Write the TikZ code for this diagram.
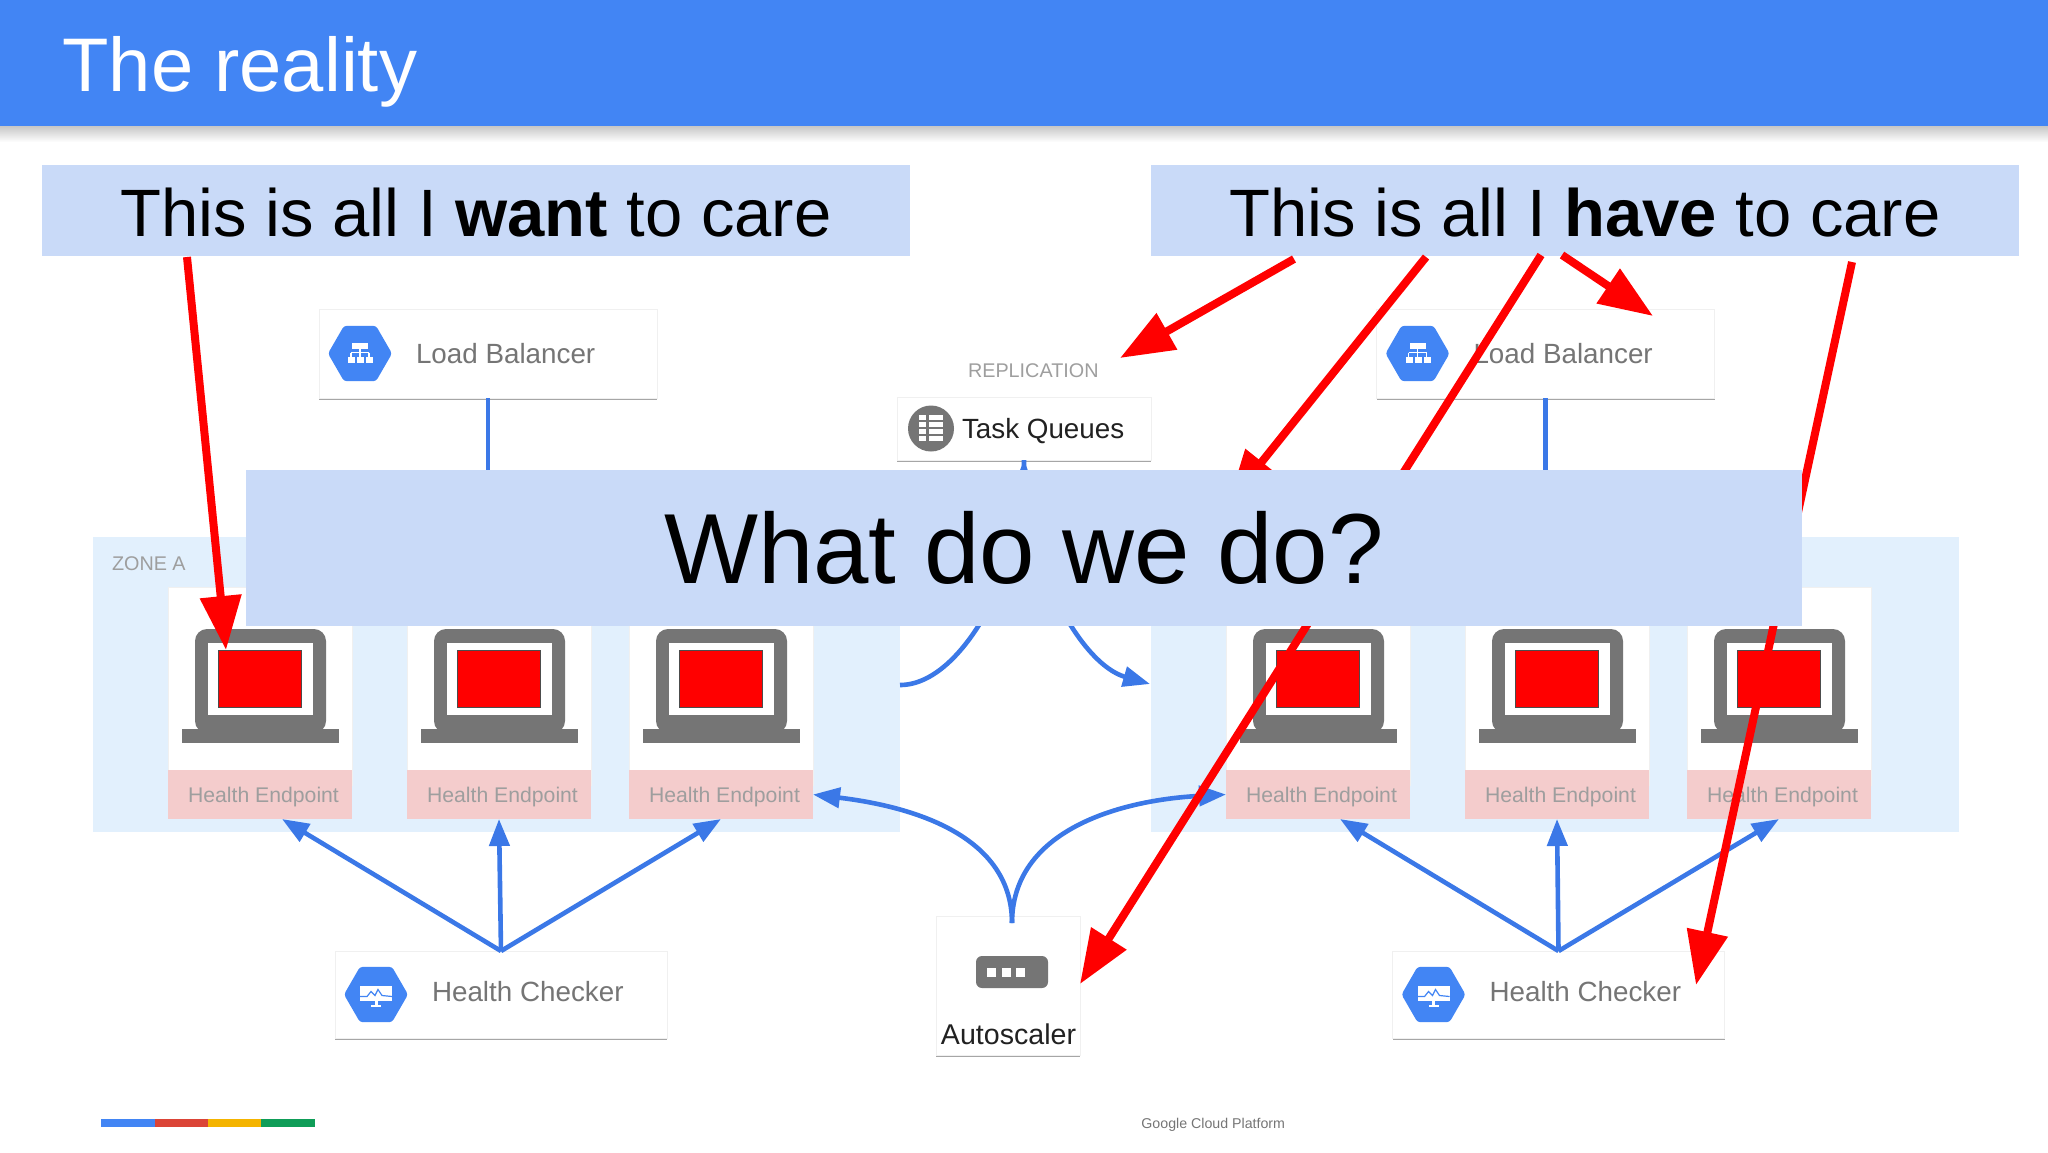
\documentclass[tikz,border=0pt]{standalone}
\usepackage{fontspec}
\setmainfont{Liberation Sans}
\usepackage{xcolor}
\usetikzlibrary{positioning,arrows.meta,shapes,shadows}
\definecolor{headerblue}{HTML}{4285F4}
\definecolor{bandblue}{HTML}{C9DAF8}
\definecolor{zoneblue}{HTML}{E2F0FD}
\definecolor{flowblue}{HTML}{3B78E7}
\definecolor{endpink}{HTML}{F4CCCC}
\definecolor{icongray}{HTML}{757575}
\definecolor{softgray}{HTML}{9E9E9E}
\definecolor{inkgray}{HTML}{212121}
\definecolor{stripered}{HTML}{DB4437}
\definecolor{stripeyellow}{HTML}{F4B400}
\definecolor{stripegreen}{HTML}{0F9D58}
\begin{document}
\begin{tikzpicture}[
    x=0.5pt, y=-0.5pt,
    card/.style={rectangle, fill=white, draw=black!6, inner sep=0pt, outer sep=0pt,
        drop shadow={shadow xshift=0pt, shadow yshift=-1pt, fill=black, opacity=0.35}},
    vmcard/.style={card, anchor=north west, minimum width=92pt, minimum height=99pt},
    endpoint/.style={rectangle, fill=endpink, anchor=north west, inner sep=0pt, outer sep=0pt,
        minimum width=92pt, minimum height=24.5pt, text=softgray, text height=10.5pt, text depth=2.3pt,
        font=\fontsize{10.6}{13}\selectfont},
    topband/.style={rectangle, fill=bandblue, inner sep=0pt, outer sep=0pt, text=black,
        text height=32pt, text depth=6pt,
        minimum width=434pt, minimum height=45.5pt, font=\fontsize{33.5}{38}\selectfont},
    hexicon/.style={regular polygon, regular polygon sides=6, fill=headerblue, rounded corners=1.5pt,
        minimum size=32pt, inner sep=0pt, outer sep=0pt},
    cardtext/.style={inner sep=0pt, outer sep=0pt, text=icongray, font=\fontsize{13.9}{16}\selectfont},
    small/.style={inner sep=0pt, outer sep=0pt, text=softgray, font=\fontsize{9.9}{12}\selectfont},
    flow/.style={draw=flowblue, line width=2.3pt, -{Triangle[length=13.5pt,width=10pt]}},
    plainflow/.style={draw=flowblue, line width=2.3pt},
    redarrow/.style={draw=red, line width=4pt, -{Triangle[length=27pt,width=20pt]}},
    laptop/.pic={
        \fill[icongray, rounded corners=6pt] (27,42) rectangle (158,146);
        \fill[icongray] (14,142) rectangle (171,156);
        \fill[white] (40,56) rectangle (145,128);
        \filldraw[fill=red, draw=black!70, line width=0.5pt] (50,63) rectangle (133,120);
    },
    treeglyph/.pic={
        \fill[white] (-8,-11) rectangle (8,-5);
        \foreach \xa in {-12,-3,6} \fill[white] (\xa,3) rectangle (\xa+7,9);
        \draw[white, line width=0.6pt] (0,-5) -- (0,3) (-9,-1) -- (9,-1) (-9,-1) -- (-9,3) (9,-1) -- (9,3);
    },
    monitorglyph/.pic={
        \fill[white] (-16,-9) rectangle (16,6);
        \fill[white] (-1.5,6) rectangle (1.5,11);
        \fill[white] (-5,10) rectangle (5,12);
        \draw[headerblue, line width=0.6pt] (-16,2) -- (-9,2) -- (-5,-3) -- (-1,1) -- (2,-5) -- (6,1) -- (16,2);
    }
]
    % header
    \fill[headerblue] (0,0) rectangle (2048,126);
    \shade[top color=black!22, bottom color=white] (0,126) rectangle (2048,142);
    \node[anchor=base west, inner sep=0pt, text=white, font=\fontsize{38}{44}\selectfont] (title) at (62,91) {The reality};

    % zones
    \node[rectangle, fill=zoneblue, anchor=north west, inner sep=0pt, minimum width=403.5pt, minimum height=147.5pt] (zonea) at (93,537) {};
    \node[rectangle, fill=zoneblue, anchor=north west, inner sep=0pt, minimum width=404pt, minimum height=147.5pt] (zoneb) at (1151,537) {};
    \node[small, anchor=base west] (zonelabel) at (112,570) {ZONE A};

    % vm cards
    \foreach \name/\xpos in {a/168,b/407,c/629,d/1226,e/1465,f/1687} {
        \node[vmcard] (vm\name) at (\xpos,587) {};
        \pic at (\xpos,587) {laptop};
        \node[endpoint] (ep\name) at (\xpos,770) {\hspace*{3.5pt}Health Endpoint};
    }

    % load balancers
    \node[card, minimum width=169pt, minimum height=44.5pt] (lbleft) at (488,353.5) {};
    \node[hexicon, right=4.5pt of lbleft.west] (lbhexleft) {};
    \pic at (lbhexleft.center) {treeglyph};
    \node[cardtext, right=12pt of lbhexleft] (lbtextleft) {Load Balancer};
    \node[card, minimum width=169pt, minimum height=44.5pt] (lbright) at (1545.5,353.5) {};
    \node[hexicon, right=4.5pt of lbright.west] (lbhexright) {};
    \pic at (lbhexright.center) {treeglyph};
    \node[cardtext, right=12pt of lbhexright] (lbtextright) {Load Balancer};
    \draw[plainflow] (lbleft.south) -- (lbleft.south |- zonea.north);
    \draw[plainflow] (lbright.south) -- (lbright.south |- zoneb.north);

    % task queues
    \node[small, anchor=base west] (replabel) at (968,377) {REPLICATION};
    \node[card, minimum width=127pt, minimum height=31.5pt] (taskq) at (1024,428.5) {};
    \node[circle, fill=icongray, minimum size=23pt, inner sep=0pt, outer sep=0pt, right=5.5pt of taskq.west] (tqicon) {};
    \foreach \ya in {415,422,429,436} {
        \fill[white] (919,\ya) rectangle (926,\ya+5);
        \fill[white] (929,\ya) rectangle (943,\ya+5);
    }
    \node[cardtext, text=inkgray, right=4pt of tqicon, yshift=-1.3pt] (tqtext) {Task Queues};
    \coordinate (replin) at (900,685);
    \coordinate (replout) at (1150,684);
    \draw[flow] (replin) .. controls (965,685) and (1023,560) .. (taskq.south);
    \draw[flow] (taskq.south) .. controls (1023,560) and (1080,664) .. (replout);

    % health checkers
    \node[card, minimum width=166pt, minimum height=43.5pt] (hcleft) at (501,994.5) {};
    \node[hexicon, right=4.5pt of hcleft.west] (hchexleft) {};
    \pic at (hchexleft.center) {monitorglyph};
    \node[cardtext, right=12pt of hchexleft, yshift=1.3pt] (hctextleft) {Health Checker};
    \node[card, minimum width=166pt, minimum height=43.5pt] (hcright) at (1558.5,994.5) {};
    \node[hexicon, right=4.5pt of hcright.west] (hchexright) {};
    \pic at (hchexright.center) {monitorglyph};
    \node[cardtext, right=12pt of hchexright, yshift=1.3pt] (hctextright) {Health Checker};
    \draw[flow] (hcleft.north) -- ([xshift=11pt]epa.south);
    \draw[flow] (hcleft.north) -- (epb.south);
    \draw[flow] (hcleft.north) -- (epc.south);
    \draw[flow] (hcright.north) -- ([xshift=11pt]epd.south);
    \draw[flow] (hcright.north) -- (epe.south);
    \draw[flow] (hcright.north) -- (epf.south);

    % autoscaler
    \node[card, minimum width=72pt, minimum height=69.5pt] (asc) at (1008,985.5) {};
    \node[rectangle, fill=icongray, rounded corners=3pt, minimum width=36pt, minimum height=16pt, inner sep=0pt] (ascicon) at (1012,972) {};
    \foreach \xa in {987,1002,1016} \fill[white] (\xa,968) rectangle (\xa+9,977);
    \node[cardtext, text=inkgray, font=\fontsize{14.3}{16}\selectfont, anchor=base] (asctext) at (1008.5,1044) {Autoscaler};
    \coordinate (ascport) at (1012,923);
    \draw[flow] (ascport) .. controls (1012,830) and (900,805) .. (epc.east);
    \draw[flow] (ascport) .. controls (1012,830) and (1120,800) .. (epd.west);

    % footer
    \foreach \xa/\xb/\col in {101/155/headerblue,155/207.5/stripered,207.5/261/stripeyellow,261/315/stripegreen} {
        \fill[\col] (\xa,1119) rectangle (\xb,1127);
    }
    \node[anchor=base west, inner sep=0pt, text=icongray, font=\fontsize{7.1}{9}\selectfont] (gcp) at (1141,1128) {Google Cloud Platform};

    % bands
    \node[topband] (wantband) at (476,210.5) {This is all I \textbf{want} to care};
    \node[topband] (haveband) at (1585,210.5) {This is all I \textbf{have} to care};

    % red arrows
    \coordinate (wanta) at (187,257);
    \coordinate (havea) at (1294,259);
    \coordinate (haveb) at (1426,257);
    \coordinate (havec) at (1541,255);
    \coordinate (haved) at (1562,255);
    \coordinate (havee) at (1852,262);
    \coordinate (tipa) at (226,650);
    \coordinate (tipb) at (1120,358);
    \coordinate (tipc) at (1228,504);
    \coordinate (tipd) at (1080,984);
    \coordinate (tipe) at (1653,316);
    \coordinate (tipf) at (1696,985);
    \draw[redarrow] (wanta) -- (tipa);
    \draw[redarrow] (havea) -- (tipb);
    \draw[redarrow] (haveb) -- (tipc);
    \draw[redarrow] (havec) -- (tipd);
    \draw[redarrow] (haved) -- (tipe);
    \draw[redarrow] (havee) -- (tipf);

    % question band
    \node[rectangle, fill=bandblue, inner sep=0pt, text=black, minimum width=778pt, minimum height=78pt, font=\fontsize{49.8}{56}\selectfont] (askband) at (1024,548) {What do we do?};

    \useasboundingbox (0,0) rectangle (2048,1152);
\end{tikzpicture}
\end{document}
